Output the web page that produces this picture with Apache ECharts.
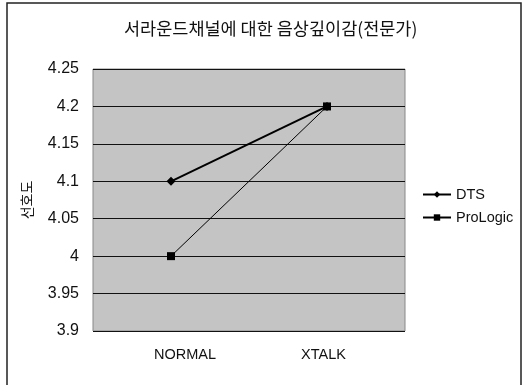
<!DOCTYPE html>
<html><head><meta charset="utf-8">
<script src="https://cdn.jsdelivr.net/npm/echarts@6/dist/echarts.min.js"></script>
<style>html,body{margin:0;padding:0;background:#fff}#c{width:523px;height:385px}</style>
</head><body><div id="c"></div>
<script>
const titleText = '서라운드채널에 대한 음상깊이감(전문가)';
const yAxisName = '선호도';
const categories = ['NORMAL', 'XTALK'];
const dtsValues = [4.1, 4.2];
const prologicValues = [4.0, 4.2];
const seriesNames = ['DTS', 'ProLogic'];

const labelFont = 'Liberation Sans';
const chart = echarts.init(document.getElementById('c'));
chart.setOption({
  animation: false,
  backgroundColor: '#fff',
  title: {
    text: titleText, left: 119, top: 15,
    textStyle: { fontFamily: 'Noto Sans CJK KR', fontSize: 17.5, fontWeight: 'normal', color: '#111' }
  },
  graphic: [{
    type: 'rect', shape: { x: 7, y: 3, width: 514, height: 400 },
    style: { fill: 'none', stroke: '#222', lineWidth: 1.5 }, silent: true
  }],
  legend: {
    orient: 'vertical', left: 417, top: 182, itemWidth: 28, itemHeight: 8, itemGap: 8,
    textStyle: { fontFamily: labelFont, fontSize: 14.5, color: '#111' },
    data: seriesNames
  },
  grid: { left: 93, right: 118, top: 69, bottom: 54, show: true, backgroundColor: '#c4c4c4', borderColor: '#888', borderWidth: 1 },
  xAxis: {
    type: 'category', data: categories, boundaryGap: true,
    axisLine: { show: false }, axisTick: { show: false },
    axisLabel: {
      margin: 16, fontFamily: labelFont, fontSize: 14.5, color: '#111',
      formatter: v => v === 'NORMAL' ? '{n|' + v + '}' : '{x|' + v + '}',
      rich: {
        n: { fontFamily: labelFont, fontSize: 14.5, color: '#111', padding: [0, 0, 0, 28] },
        x: { fontFamily: labelFont, fontSize: 14.5, color: '#111', padding: [0, 7, 0, 0] }
      }
    }
  },
  yAxis: {
    type: 'value', min: 3.9, max: 4.25, interval: 0.05,
    name: yAxisName, nameLocation: 'middle', nameGap: 59, nameRotate: 90,
    nameTextStyle: { fontFamily: 'Noto Sans CJK KR', fontSize: 14, color: '#111' },
    axisLine: { show: false }, axisTick: { show: false },
    axisLabel: { margin: 14, fontFamily: labelFont, fontSize: 16, color: '#111',
      formatter: v => String(parseFloat(v.toFixed(2))) },
    splitLine: { show: true, lineStyle: { color: '#111', width: 1 } }
  },
  series: [
    { name: seriesNames[0], type: 'line', data: dtsValues, symbol: 'diamond', symbolSize: 9,
      lineStyle: { color: '#000', width: 2 }, itemStyle: { color: '#000' } },
    { name: seriesNames[1], type: 'line', data: prologicValues, symbol: 'rect', symbolSize: 8,
      lineStyle: { color: '#000', width: 1 }, itemStyle: { color: '#000' } }
  ]
});
</script></body></html>
